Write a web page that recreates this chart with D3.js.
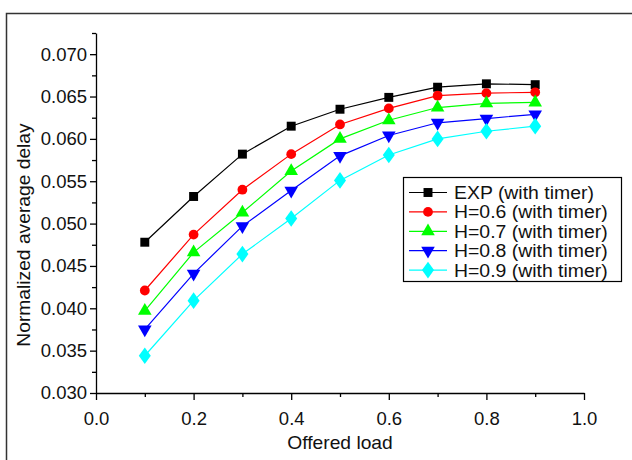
<!DOCTYPE html>
<html><head><meta charset="utf-8">
<script src="https://cdn.jsdelivr.net/npm/d3@7"></script>
<style>html,body{margin:0;padding:0;background:#fff;}svg{display:block;}</style>
</head><body>
<script>
const loads = [0.1,0.2,0.3,0.4,0.5,0.6,0.7,0.8,0.9];
const seriesNames = ["EXP (with timer)","H=0.6 (with timer)","H=0.7 (with timer)","H=0.8 (with timer)","H=0.9 (with timer)"];
const expDelay = [0.0478,0.0532,0.0582,0.0615,0.0635,0.0649,0.0661,0.0665,0.0664];
const h06Delay = [0.0421,0.0487,0.0540,0.0582,0.0617,0.0636,0.0651,0.0654,0.0655];
const h07Delay = [0.0397,0.0466,0.0513,0.0562,0.0600,0.0622,0.0637,0.0642,0.0643];
const h08Delay = [0.0375,0.0441,0.0497,0.0539,0.0580,0.0604,0.0619,0.0624,0.0629];
const h09Delay = [0.0344,0.0409,0.0464,0.0506,0.0551,0.0581,0.0600,0.0609,0.0615];
const xTicks = [0.0,0.2,0.4,0.6,0.8,1.0];
const yTicks = [0.030,0.035,0.040,0.045,0.050,0.055,0.060,0.065,0.070];
const colors = ["#000000","#ff0000","#00ff00","#0000ff","#00ffff"];
const shapes = ["square","circle","triangle","triangleDown","diamond"];
const allSeries = [expDelay,h06Delay,h07Delay,h08Delay,h09Delay];

const W=632,H=460;
const m={left:96,right:632-584,top:33,bottom:460-393};
const font="'Liberation Sans', Arial, sans-serif";
const svg=d3.select("body").append("svg").attr("width",W).attr("height",H);
svg.append("rect").attr("x",6.5).attr("y",13.5).attr("width",640).attr("height",480)
  .attr("fill","none").attr("stroke","#333").attr("stroke-width",1.5);

const x=d3.scaleLinear().domain([0,1]).range([m.left,W-m.right]);
const y=d3.scaleLinear().domain([0.030,0.0725]).range([H-m.bottom,m.top]);

// minor ticks
const gx=svg.append("g").attr("transform",`translate(0,${H-m.bottom})`);
gx.call(d3.axisBottom(x).tickValues(d3.range(0.1,1.0,0.2)).tickSize(4).tickFormat(""));
gx.call(g=>g.selectAll(".domain").remove());
const gx2=svg.append("g").attr("transform",`translate(0,${H-m.bottom})`)
  .call(d3.axisBottom(x).tickValues(xTicks).tickSize(7).tickSizeOuter(0).tickPadding(12).tickFormat(d3.format(".1f")));
const gy=svg.append("g").attr("transform",`translate(${m.left},0)`);
gy.call(d3.axisLeft(y).tickValues(d3.range(0.0325,0.073,0.005)).tickSize(4).tickFormat(""));
gy.call(g=>g.selectAll(".domain").remove());
const gy2=svg.append("g").attr("transform",`translate(${m.left},0)`)
  .call(d3.axisLeft(y).tickValues(yTicks).tickSize(6).tickSizeOuter(0).tickPadding(3).tickFormat(d3.format(".3f")));
svg.selectAll(".tick line, .domain").attr("stroke","#000").attr("stroke-width",1.3);
svg.selectAll(".tick text").attr("font-family",font).attr("font-size",18.5).attr("fill","#111");

svg.append("text").attr("transform",`translate(${(m.left+W-m.right)/2},449) scale(1.04,1)`).attr("text-anchor","middle")
  .attr("font-family",font).attr("font-size",18.5).attr("fill","#111").text("Offered load");
svg.append("text").attr("transform",`translate(30,235) rotate(-90) scale(1.04,1)`).attr("text-anchor","middle")
  .attr("font-family",font).attr("font-size",18.5).attr("fill","#111").text("Normalized average delay");

function marker(g,shape,color,cx,cy){
  let s;
  if(shape==="square") s=d3.symbol(d3.symbolSquare,80);
  else if(shape==="circle") s=d3.symbol(d3.symbolCircle,75);
  else if(shape==="triangle") s=d3.symbol(d3.symbolTriangle,80);
  else if(shape==="triangleDown") s=d3.symbol(d3.symbolTriangle,80);
  else s=d3.symbol(d3.symbolDiamond,80);
  let t=`translate(${cx},${cy})`;
  if(shape==="triangleDown") t+=" rotate(180)";
  if(shape==="diamond") t+=" scale(1.25,1)";
  g.append("path").attr("d",s()).attr("transform",t).attr("fill",color);
}

const line=d3.line().x((d,i)=>x(loads[i])).y(d=>y(d));
allSeries.forEach((vals,k)=>{
  const g=svg.append("g");
  g.append("path").datum(vals).attr("d",line).attr("fill","none").attr("stroke",colors[k]).attr("stroke-width",1.2);
  vals.forEach((v,i)=>marker(g,shapes[k],colors[k],x(loads[i]),y(v)));
});

// legend
const lg=svg.append("g");
lg.append("rect").attr("x",403.5).attr("y",177.5).attr("width",218).attr("height",104)
  .attr("fill","#fff").attr("stroke","#000").attr("stroke-width",1.2);
seriesNames.forEach((n,k)=>{
  const cy=192.5+k*19.4;
  lg.append("line").attr("x1",409).attr("x2",447).attr("y1",cy).attr("y2",cy).attr("stroke",colors[k]).attr("stroke-width",1.2);
  marker(lg,shapes[k],colors[k],428,cy);
  lg.append("text").attr("transform",`translate(454,${cy+6.5}) scale(1.05,1)`).attr("font-family",font).attr("font-size",18.5).attr("fill","#111").text(n);
});
</script>
</body></html>
